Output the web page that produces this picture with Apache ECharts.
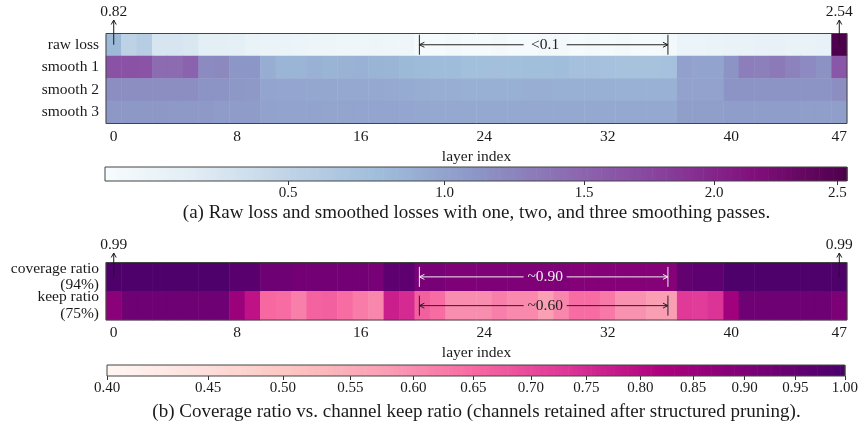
<!DOCTYPE html>
<html>
<head>
<meta charset="utf-8">
<script src="https://cdn.jsdelivr.net/npm/echarts@6/dist/echarts.min.js"></script>
<style>
  html, body { margin: 0; padding: 0; background: #fff; }
  #chart { width: 861px; height: 430px; }
</style>
</head>
<body>
<div id="chart"></div>
<script>
// ---- data ----
const layers = Array.from({length: 48}, (_, i) => String(i));
const layerTicks = [0, 8, 16, 24, 32, 40, 47];

const lossRows = ['raw loss', 'smooth 1', 'smooth 2', 'smooth 3'];
const rawLoss = [
  0.82, 0.52, 0.58, 0.32, 0.32, 0.30, 0.22, 0.22, 0.21, 0.17, 0.16, 0.16,
  0.15, 0.13, 0.13, 0.12, 0.12, 0.13, 0.12, 0.12, 0.08, 0.08, 0.09, 0.08,
  0.08, 0.09, 0.08, 0.08, 0.09, 0.09, 0.08, 0.09, 0.08, 0.09, 0.08, 0.08,
  0.09, 0.15, 0.15, 0.16, 0.17, 0.17, 0.18, 0.18, 0.17, 0.17, 0.18, 2.54
];
const smooth1 = [
  1.65, 1.65, 1.64, 1.44, 1.44, 1.52, 1.19, 1.21, 1.10, 1.10, 0.91, 0.85,
  0.85, 0.88, 0.86, 0.87, 0.88, 0.86, 0.85, 0.82, 0.80, 0.79, 0.79, 0.76,
  0.76, 0.75, 0.76, 0.77, 0.77, 0.78, 0.74, 0.74, 0.73, 0.72, 0.72, 0.72,
  0.73, 1.02, 1.00, 1.00, 1.12, 1.29, 1.28, 1.33, 1.25, 1.20, 1.14, 1.62
];
const smooth2 = [
  1.17, 1.17, 1.17, 1.17, 1.17, 1.17, 1.13, 1.13, 1.09, 1.08, 0.98, 0.97,
  0.97, 0.96, 0.96, 0.95, 0.95, 0.95, 0.94, 0.93, 0.91, 0.90, 0.90, 0.89,
  0.89, 0.89, 0.89, 0.90, 0.90, 0.89, 0.89, 0.89, 0.89, 0.88, 0.88, 0.88,
  0.88, 1.01, 1.01, 1.01, 1.12, 1.12, 1.13, 1.13, 1.13, 1.12, 1.12, 1.18
];
const smooth3 = [
  1.09, 1.09, 1.09, 1.09, 1.08, 1.08, 1.08, 1.06, 1.06, 1.06, 1.01, 1.00,
  1.00, 1.00, 0.99, 0.99, 0.98, 0.98, 0.98, 0.97, 0.96, 0.95, 0.95, 0.95,
  0.95, 0.95, 0.95, 0.95, 0.95, 0.95, 0.95, 0.95, 0.95, 0.95, 0.95, 0.95,
  0.95, 1.04, 1.04, 1.04, 1.05, 1.05, 1.05, 1.05, 1.05, 1.04, 1.04, 1.04
];

const ratioRows = ['coverage ratio\n(94%)', 'keep ratio\n(75%)'];
const coverage = [
  0.99, 0.99, 0.99, 0.99, 0.99, 0.99, 0.99, 0.99, 0.97, 0.97, 0.93, 0.93,
  0.92, 0.92, 0.92, 0.92, 0.92, 0.91, 0.96, 0.96, 0.91, 0.91, 0.90, 0.90,
  0.90, 0.90, 0.90, 0.90, 0.90, 0.90, 0.89, 0.89, 0.89, 0.89, 0.89, 0.89,
  0.89, 0.95, 0.96, 0.96, 0.99, 0.99, 0.99, 0.99, 0.99, 0.99, 0.99, 0.99
];
const keep = [
  0.88, 0.93, 0.93, 0.93, 0.93, 0.93, 0.93, 0.93, 0.85, 0.79, 0.652, 0.645,
  0.62, 0.66, 0.665, 0.645, 0.625, 0.61, 0.77, 0.75, 0.665, 0.645, 0.60, 0.60,
  0.60, 0.62, 0.605, 0.605, 0.575, 0.61, 0.645, 0.645, 0.63, 0.595, 0.595, 0.578,
  0.578, 0.725, 0.72, 0.735, 0.84, 0.93, 0.93, 0.93, 0.93, 0.93, 0.93, 0.905
];

const lossTicks = [0.5, 1.0, 1.5, 2.0, 2.5];
const ratioTicks = [0.40, 0.45, 0.50, 0.55, 0.60, 0.65, 0.70, 0.75, 0.80, 0.85, 0.90, 0.95, 1.00];

// matplotlib BuPu / RdPu
const BuPu = ['#f7fcfd', '#e0ecf4', '#bfd3e6', '#9ebcda', '#8c96c6', '#8c6bb1', '#88419d', '#810f7c', '#4d004b'];
const RdPu = ['#fff7f3', '#fde0dd', '#fcc5c0', '#fa9fb5', '#f768a1', '#dd3497', '#ae017e', '#7a0177', '#49006a'];

// power norms (gamma 0.8)
const clip01 = x => Math.max(0, Math.min(1, x));
const normLoss = v => Math.pow(clip01((v - 0.07) / (2.54 - 0.07)), 0.8);
const normRatio = v => Math.pow(clip01((v - 0.40) / (1.00 - 0.40)), 0.8);

const FONT = '"Liberation Serif", "DejaVu Serif", serif';
const INK = '#1a1a1a';
const FS = 15.5;

const lossData = [];
[rawLoss, smooth1, smooth2, smooth3].forEach((row, r) => {
  row.forEach((v, i) => lossData.push([i, r, normLoss(v), v]));
});
const ratioData = [];
[coverage, keep].forEach((row, r) => {
  row.forEach((v, i) => ratioData.push([i, r, normRatio(v), v]));
});
const barSteps = Array.from({length: 160}, (_, k) => [k / 160, (k + 1) / 160, (k + 0.5) / 160]);

const showLayer = i => layerTicks.indexOf(i) >= 0;

function layerAxis(grid) {
  return {
    type: 'category', gridIndex: grid, data: layers,
    axisLine: {show: false},
    axisTick: {alignWithLabel: true, interval: showLayer, length: 4, lineStyle: {color: '#333'}},
    axisLabel: {interval: showLayer, margin: 5, fontSize: FS, color: INK, fontFamily: FONT},
    splitLine: {show: false},
    name: 'layer index', nameLocation: 'middle', nameGap: 25,
    nameTextStyle: {fontSize: FS, color: INK, fontFamily: FONT}
  };
}

function rowAxis(grid, rows) {
  return {
    type: 'category', gridIndex: grid, data: rows, inverse: true,
    axisLine: {show: false},
    axisTick: {alignWithLabel: true, length: 4, lineStyle: {color: '#333'}},
    axisLabel: {interval: 0, margin: 7, fontSize: FS, color: INK, fontFamily: FONT, lineHeight: 16.5},
    splitLine: {show: false}
  };
}

function barAxis(grid, ticks, norm, digits) {
  const pos = ticks.map(norm);
  return {
    type: 'value', gridIndex: grid, min: 0, max: 1,
    axisLine: {show: false},
    splitLine: {show: false},
    axisTick: {customValues: pos, length: 4, lineStyle: {color: '#333'}},
    axisLabel: {
      customValues: pos, margin: 5, fontSize: 15, color: INK, fontFamily: FONT,
      formatter: val => {
        const i = pos.findIndex(p => Math.abs(p - val) < 1e-6);
        return i >= 0 ? ticks[i].toFixed(digits) : '';
      }
    }
  };
}

function colorbar(axis) {
  return {
    type: 'custom', xAxisIndex: axis, yAxisIndex: axis, data: barSteps,
    encode: {x: [0, 1]},
    renderItem: (params, api) => {
      const a = api.coord([api.value(0), 1]);
      const b = api.coord([api.value(1), 0]);
      return {
        type: 'rect',
        shape: {x: a[0], y: a[1], width: b[0] - a[0] + 0.6, height: b[1] - a[1]},
        style: {fill: api.visual('color')}
      };
    }
  };
}

const chart = echarts.init(document.getElementById('chart'), null, {renderer: 'canvas'});

const option = {
  animation: false,
  backgroundColor: '#fff',
  grid: [
    {left: 106, top: 33.5, width: 741, height: 90},
    {left: 105, top: 167, width: 742, height: 14},
    {left: 106, top: 262.5, width: 741, height: 57.5},
    {left: 107, top: 365, width: 739, height: 11}
  ],
  xAxis: [
    layerAxis(0),
    barAxis(1, lossTicks, normLoss, 1),
    layerAxis(2),
    barAxis(3, ratioTicks, normRatio, 2)
  ],
  yAxis: [
    rowAxis(0, lossRows),
    {type: 'value', gridIndex: 1, min: 0, max: 1, show: false},
    rowAxis(2, ratioRows),
    {type: 'value', gridIndex: 3, min: 0, max: 1, show: false}
  ],
  visualMap: [
    {type: 'continuous', show: false, dimension: 2, min: 0, max: 1, seriesIndex: [0, 1], inRange: {color: BuPu}},
    {type: 'continuous', show: false, dimension: 2, min: 0, max: 1, seriesIndex: [2, 3], inRange: {color: RdPu}}
  ],
  series: [
    {type: 'heatmap', xAxisIndex: 0, yAxisIndex: 0, data: lossData, emphasis: {disabled: true}, itemStyle: {borderWidth: 0}},
    colorbar(1),
    {type: 'heatmap', xAxisIndex: 2, yAxisIndex: 2, data: ratioData, emphasis: {disabled: true}, itemStyle: {borderWidth: 0}},
    colorbar(3)
  ]
};
chart.setOption(option);

// ---- annotations, frames, captions ----
function layerX(grid, layer) {
  const a = chart.convertToPixel({gridIndex: grid}, [0, 0]);
  const b = chart.convertToPixel({gridIndex: grid}, [1, 0]);
  return a[0] + (b[0] - a[0]) * layer;
}
function rowY(grid, row) {
  const a = chart.convertToPixel({gridIndex: grid}, [0, 0]);
  const b = chart.convertToPixel({gridIndex: grid}, [0, 1]);
  return a[1] + (b[1] - a[1]) * row;
}
function valuePx(grid, x, y) {
  return chart.convertToPixel({gridIndex: grid}, [x, y]);
}

const g = [];
function frame(x1, y1, x2, y2) {
  g.push({type: 'rect', z: 50, shape: {x: x1, y: y1, width: x2 - x1, height: y2 - y1},
    style: {fill: null, stroke: '#444', lineWidth: 1}});
}
function text(x, y, str, color, size, align, vAlign) {
  g.push({type: 'text', z: 60, style: {x: x, y: y, text: str, fill: color,
    font: size + 'px ' + FONT, align: align || 'center', verticalAlign: vAlign || 'middle'}});
}
function line(x1, y1, x2, y2, color) {
  g.push({type: 'line', z: 55, shape: {x1: x1, y1: y1, x2: x2, y2: y2}, style: {stroke: color, lineWidth: 1}});
}
function head(points, color) {
  g.push({type: 'polyline', z: 55, shape: {points: points}, style: {stroke: color, lineWidth: 1, fill: null}});
}
function upArrow(grid, layer, row, tipY, label) {
  const x = layerX(grid, layer);
  const y = rowY(grid, row);
  line(x, y, x, tipY, INK);
  head([[x - 2.5, tipY + 4.5], [x, tipY], [x + 2.5, tipY + 4.5]], INK);
  text(x, tipY - 8, label, INK, FS);
}
function spanArrow(grid, from, to, row, label, color) {
  const x1 = layerX(grid, from);
  const x2 = layerX(grid, to);
  const y = rowY(grid, row);
  const mid = (x1 + x2) / 2;
  line(x1, y - 10, x1, y + 10, color);
  line(x2, y - 10, x2, y + 10, color);
  line(x1, y, mid - 20, y, color);
  line(mid + 23, y, x2, y, color);
  head([[x1 + 5, y - 2.5], [x1, y], [x1 + 5, y + 2.5]], color);
  head([[x2 - 5, y - 2.5], [x2, y], [x2 - 5, y + 2.5]], color);
  text(mid + 1.5, y, label, color, FS);
}

// frames
frame(layerX(0, -0.5), rowY(0, -0.5), layerX(0, 47.5), rowY(0, 3.5));
frame(layerX(2, -0.5), rowY(2, -0.5), layerX(2, 47.5), rowY(2, 1.5));
let p0 = valuePx(1, 0, 1), p1 = valuePx(1, 1, 0);
frame(p0[0], p0[1], p1[0], p1[1]);
p0 = valuePx(3, 0, 1); p1 = valuePx(3, 1, 0);
frame(p0[0], p0[1], p1[0], p1[1]);

// annotations
upArrow(0, 0, 0, 20, '0.82');
upArrow(0, 47, 0, 20, '2.54');
spanArrow(0, 19.8, 35.9, 0, '<0.1', '#222');
upArrow(2, 0, 0, 253, '0.99');
upArrow(2, 47, 0, 253, '0.99');
spanArrow(2, 19.8, 35.9, 0, '~0.90', '#f0f0f0');
spanArrow(2, 19.8, 35.9, 1, '~0.60', '#222');

// captions
const capX = (layerX(0, -0.5) + layerX(0, 47.5)) / 2;
text(capX, 213, '(a) Raw loss and smoothed losses with one, two, and three smoothing passes.', INK, 19);
text(capX, 412, '(b) Coverage ratio vs. channel keep ratio (channels retained after structured pruning).', INK, 19);

chart.setOption({graphic: {elements: g}});
</script>
</body>
</html>
